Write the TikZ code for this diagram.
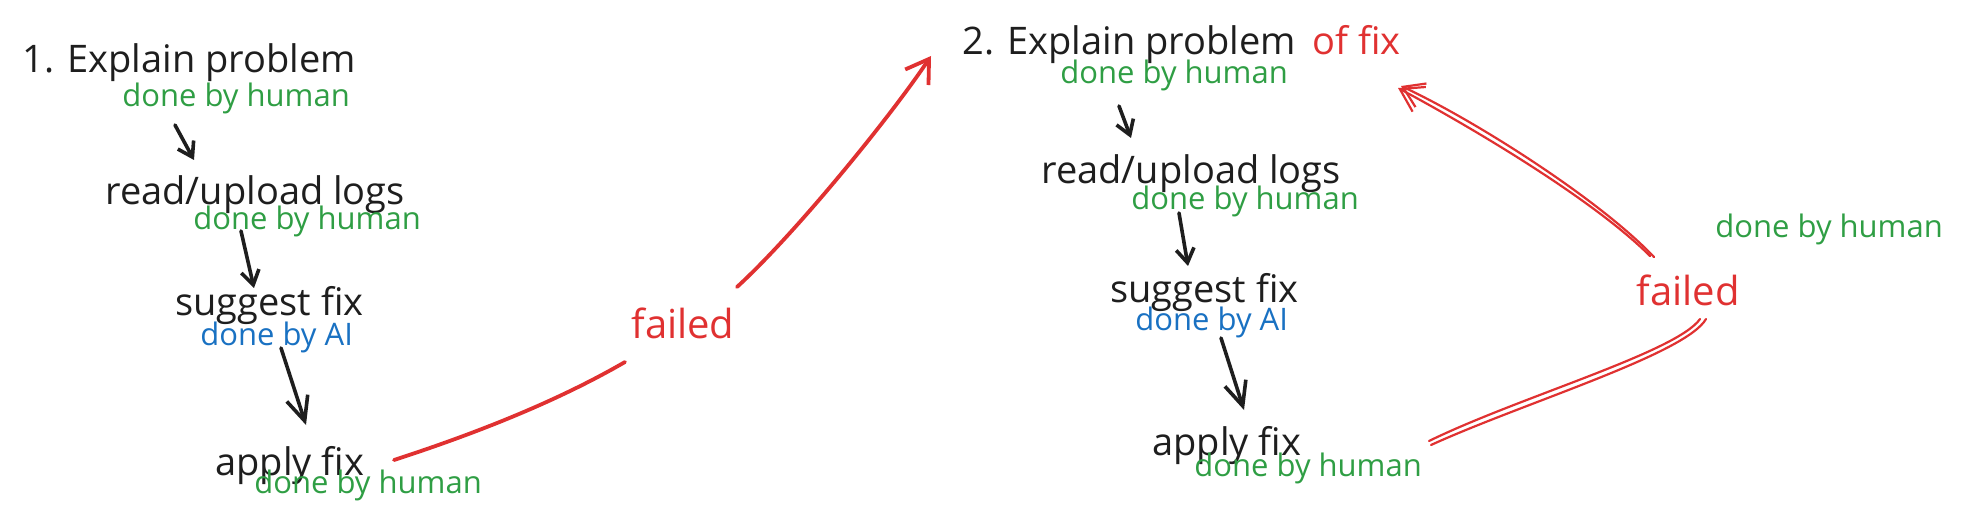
\documentclass[tikz,border=0pt]{standalone}
\usepackage{fontspec}
\setmainfont{Open Sans}
\usetikzlibrary{calc,arrows.meta}
\definecolor{ink}{HTML}{1E1E1E}
\definecolor{humangreen}{HTML}{2F9E44}
\definecolor{aiblue}{HTML}{1971C2}
\definecolor{failred}{HTML}{E03131}
\tikzset{
  stepname/.style={anchor=base west, inner sep=0pt, text=ink, font=\fontsize{19}{22}\selectfont},
  byhuman/.style={anchor=base west, inner sep=0pt, text=humangreen, font=\fontsize{15.5}{18}\selectfont},
  byai/.style={byhuman, text=aiblue},
  failnote/.style={inner sep=0pt, text=failred, font=\fontsize{20}{24}\selectfont},
  nextstep/.style={draw=ink, line width=1.8pt, line cap=round, -{Straight Barb[length=7pt,width=9pt]}},
  nextbig/.style={nextstep, -{Straight Barb[length=12pt,width=11pt]}},
  retry/.style={draw=failred, line width=1.9pt, line cap=round},
  retrythin/.style={draw=failred, line width=1.1pt, line cap=round},
}

\begin{document}
\begin{tikzpicture}[x=0.5pt,y=-0.5pt]
\useasboundingbox (0,0) rectangle (1961,529);
\node[stepname] (lexp) at (22,73) {1. Explain problem};
\node[byhuman] (lexph) at (122,107) {done by human};
\node[stepname] (lread) at (105,205) {read/upload logs};
\node[byhuman] (lreadh) at (193,230) {done by human};
\node[stepname] (lsug) at (175,316) {suggest fix};
\node[byai] (lsugai) at (200,346) {done by AI};
\node[stepname] (lapp) at (215,475) {apply fix};
\node[byhuman] (lapph) at (254,494) {done by human};
\node[failnote] (lfail) at (683,323) {failed};

\node[stepname] (rexp) at (962,55) {2. Explain problem};
\node[stepname, text=failred] (rof) at (1312,55) {of fix};
\node[byhuman] (rexph) at (1060,84) {done by human};
\node[stepname] (rread) at (1041,184) {read/upload logs};
\node[byhuman] (rreadh) at (1131,210) {done by human};
\node[stepname] (rsug) at (1110,303) {suggest fix};
\node[byai] (rsugai) at (1135,331) {done by AI};
\node[stepname] (rapp) at (1152,455) {apply fix};
\node[byhuman] (rapph) at (1194,476) {done by human};
\node[failnote] (rfail) at (1688,290) {failed};
\node[byhuman] (rfailh) at (1715,238) {done by human};

\draw[nextstep] ([shift={(53,18)}]lexph.base west) -- ([shift={(89,-45)}]lread.base west);
\draw[nextstep] ([shift={(48,1)}]lreadh.base west) -- ([shift={(79,-28)}]lsug.base west);
\draw[nextbig] ([shift={(81,2)}]lsugai.base west) -- ([shift={(91,-50)}]lapp.base west);
\draw[nextstep] ([shift={(59,22)}]rexph.base west) -- ([shift={(90,-46)}]rread.base west);
\draw[nextstep] ([shift={(48,3)}]rreadh.base west) -- ([shift={(78,-37)}]rsug.base west);
\draw[nextbig] ([shift={(86,7)}]rsugai.base west) -- ([shift={(92,-45)}]rapp.base west);

\draw[retry] ([shift={(179,-15)}]lapp.base west) .. controls +(80,-26) and +(-69,40) .. ([shift={(-58,39)}]lfail.center);
\draw[retry, -{Straight Barb[length=11pt,width=14pt]}] ([shift={(54,-36)}]lfail.center) .. controls +(59,-54) and +(-40,60) .. ([shift={(-31,1)}]rexp.base west);

\draw[retrythin] ([shift={(277,-14)}]rapp.base west) .. controls +(90,-44) and +(-23,33) .. ([shift={(12,29)}]rfail.center);
\draw[retrythin] ([shift={(279,-10)}]rapp.base west) .. controls +(92,-42) and +(-20,35) .. ([shift={(18,29)}]rfail.center);
\draw[retrythin, -{Straight Barb[length=11pt,width=14pt]}] ([shift={(-38,-34)}]rfail.center) .. controls +(-57,-57) and +(71,38) .. ([shift={(86,33)}]rof.base west);
\draw[retrythin, -{Straight Barb[length=10pt,width=13pt]}] ([shift={(-34,-33)}]rfail.center) .. controls +(-55,-58) and +(73,34) .. ([shift={(89,31)}]rof.base west);
\end{tikzpicture}
\end{document}
